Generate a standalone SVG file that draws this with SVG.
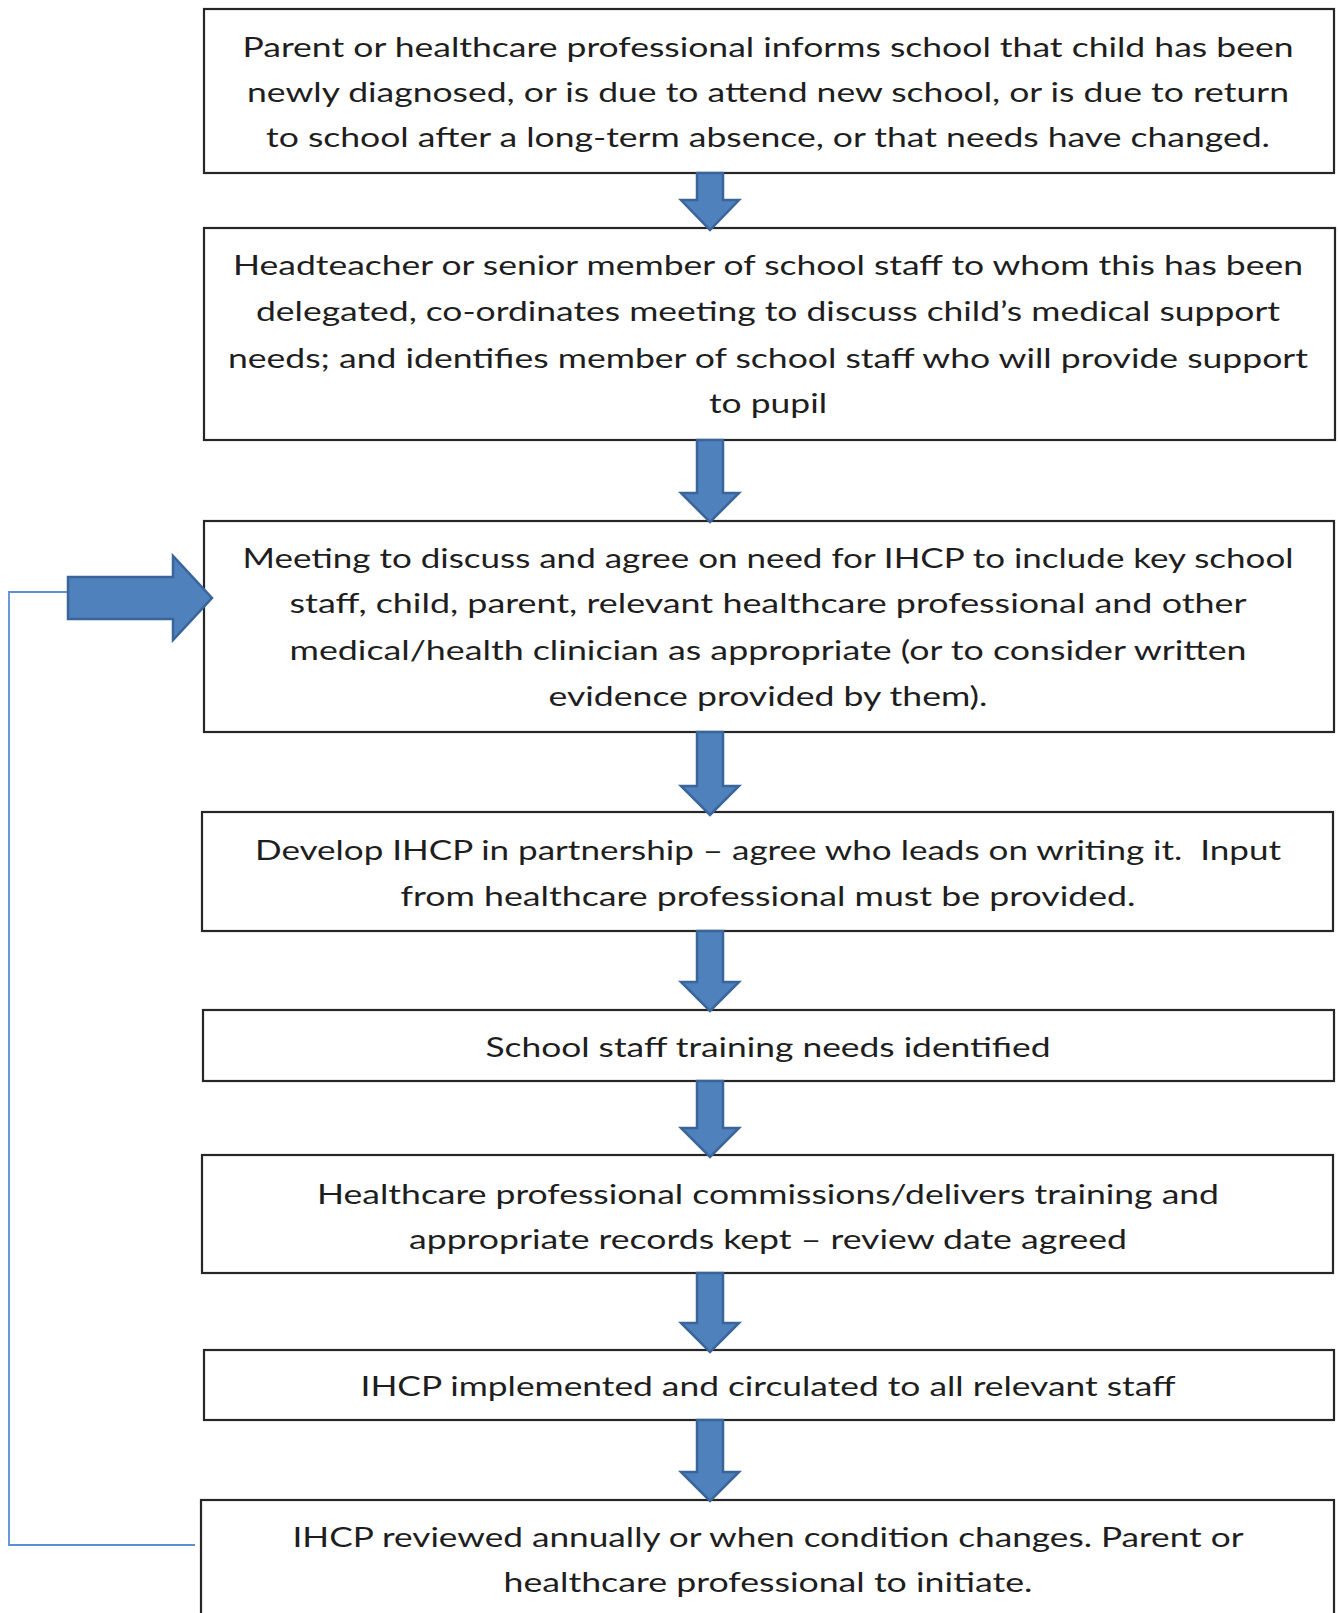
<svg xmlns="http://www.w3.org/2000/svg" width="1338" height="1613" viewBox="0 0 1338 1613">
  <style>
    .box { fill: #ffffff; stroke: #262626; stroke-width: 2.2; }
    .lbl { font-family: Lato, "Open Sans", "Liberation Sans", sans-serif; font-size: 26px; fill: #1e1e1e; text-anchor: middle; }
    .down { fill: #4f81bd; stroke: #3a659a; stroke-width: 2.5; stroke-linejoin: miter; }
    .loop { fill: none; stroke: #5b8fd4; stroke-width: 1.8; }
  </style>
  <rect width="1338" height="1613" fill="#ffffff"/>

  <g id="node-inform">
    <rect class="box" x="204" y="9" width="1130" height="164"/>
    <text class="lbl" x="768" y="57" textLength="1051" lengthAdjust="spacingAndGlyphs">Parent or healthcare professional informs school that child has been</text>
    <text class="lbl" x="768" y="102" textLength="1042" lengthAdjust="spacingAndGlyphs">newly diagnosed, or is due to attend new school, or is due to return</text>
    <text class="lbl" x="768" y="147" textLength="1004" lengthAdjust="spacingAndGlyphs">to school after a long-term absence, or that needs have changed.</text>
  </g>

  <g id="node-headteacher">
    <rect class="box" x="204" y="228" width="1131" height="212"/>
    <text class="lbl" x="768" y="275" textLength="1070" lengthAdjust="spacingAndGlyphs">Headteacher or senior member of school staff to whom this has been</text>
    <text class="lbl" x="768" y="321" textLength="1024" lengthAdjust="spacingAndGlyphs">delegated, co-ordinates meeting to discuss child’s medical support</text>
    <text class="lbl" x="768" y="368" textLength="1080" lengthAdjust="spacingAndGlyphs">needs; and identifies member of school staff who will provide support</text>
    <text class="lbl" x="768" y="413" textLength="118" lengthAdjust="spacingAndGlyphs">to pupil</text>
  </g>

  <g id="node-meeting">
    <rect class="box" x="204" y="521" width="1130" height="211"/>
    <text class="lbl" x="768" y="568" textLength="1051" lengthAdjust="spacingAndGlyphs">Meeting to discuss and agree on need for IHCP to include key school</text>
    <text class="lbl" x="768" y="613" textLength="957" lengthAdjust="spacingAndGlyphs">staff, child, parent, relevant healthcare professional and other</text>
    <text class="lbl" x="768" y="660" textLength="957" lengthAdjust="spacingAndGlyphs">medical/health clinician as appropriate (or to consider written</text>
    <text class="lbl" x="768" y="706" textLength="439" lengthAdjust="spacingAndGlyphs">evidence provided by them).</text>
  </g>

  <g id="node-develop">
    <rect class="box" x="202" y="812" width="1131" height="119"/>
    <text class="lbl" x="768" y="860" textLength="1026" lengthAdjust="spacingAndGlyphs" xml:space="preserve">Develop IHCP in partnership – agree who leads on writing it.  Input</text>
    <text class="lbl" x="768" y="906" textLength="735" lengthAdjust="spacingAndGlyphs">from healthcare professional must be provided.</text>
  </g>

  <g id="node-training">
    <rect class="box" x="203" y="1010" width="1131" height="71"/>
    <text class="lbl" x="768" y="1057" textLength="565" lengthAdjust="spacingAndGlyphs">School staff training needs identified</text>
  </g>

  <g id="node-deliver">
    <rect class="box" x="202" y="1155" width="1131" height="118"/>
    <text class="lbl" x="768" y="1204" textLength="902" lengthAdjust="spacingAndGlyphs">Healthcare professional commissions/delivers training and</text>
    <text class="lbl" x="768" y="1249" textLength="718" lengthAdjust="spacingAndGlyphs">appropriate records kept – review date agreed</text>
  </g>

  <g id="node-implement">
    <rect class="box" x="204" y="1350" width="1130" height="70"/>
    <text class="lbl" x="768" y="1396" textLength="815" lengthAdjust="spacingAndGlyphs">IHCP implemented and circulated to all relevant staff</text>
  </g>

  <g id="node-review">
    <rect class="box" x="201" y="1500" width="1133" height="130"/>
    <text class="lbl" x="768" y="1547" textLength="951" lengthAdjust="spacingAndGlyphs">IHCP reviewed annually or when condition changes. Parent or</text>
    <text class="lbl" x="768" y="1592" textLength="529" lengthAdjust="spacingAndGlyphs">healthcare professional to initiate.</text>
  </g>

  <!-- connectors, drawn over the box borders -->
  <g id="connectors">
    <path class="down" d="M697,173 H723 V200 H739 L710,230 L681,200 H697 Z"/>
    <path class="down" d="M697,440 H723 V493 H739 L710,522 L681,493 H697 Z"/>
    <path class="down" d="M697,732 H723 V786 H739 L710,815 L681,786 H697 Z"/>
    <path class="down" d="M697,931 H723 V982 H739 L710,1011 L681,982 H697 Z"/>
    <path class="down" d="M697,1081 H723 V1128 H739 L710,1157 L681,1128 H697 Z"/>
    <path class="down" d="M697,1273 H723 V1323 H739 L710,1352 L681,1323 H697 Z"/>
    <path class="down" d="M697,1420 H723 V1472 H739 L710,1501 L681,1472 H697 Z"/>
    <!-- review loop back to the IHCP meeting -->
    <path class="loop" d="M195,1545 H9 V592 H68"/>
    <path class="down" d="M68,577 H173 V556 L212,598 L173,640 V619 H68 Z"/>
  </g>
</svg>
